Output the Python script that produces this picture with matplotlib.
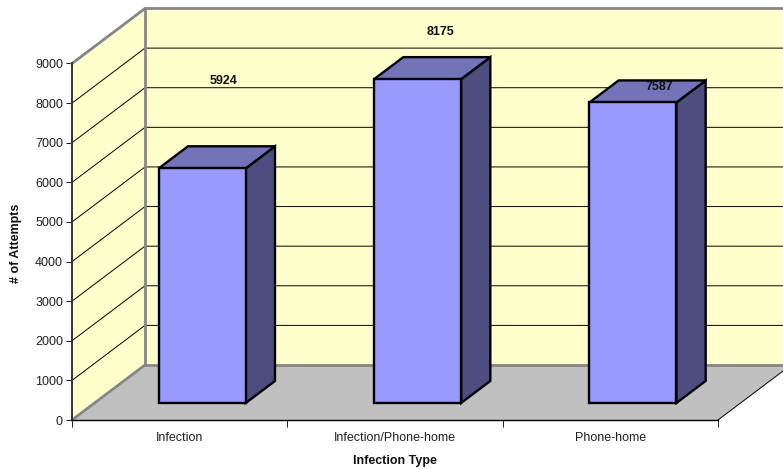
import matplotlib
matplotlib.use('Agg')
import matplotlib.pyplot as plt
from matplotlib.patches import Polygon

categories = ['Infection', 'Infection/Phone-home', 'Phone-home']
attempts = [5924, 8175, 7587]
y_ticks = [0, 1000, 2000, 3000, 4000, 5000, 6000, 7000, 8000, 9000]

# where the value labels sit, relative to the bar's category centre and top
label_dx = [0.205, 0.21, 0.228]
label_dy = [2630, 1610, 810]

plt.rcParams['font.family'] = ['Liberation Sans', 'DejaVu Sans']

W, H = 783, 469
PX_X = 646 / 3.0  # pixels per category
PX_Y = 356.5 / 9000.0  # pixels per attempt
LEFT, BASE = 72, 420

# oblique depth of the box, in data units (depth 1 = back wall)
DEPTH_X = 73 / PX_X
DEPTH_Y = 55 / PX_Y
BAR_W = 87 / PX_X
BAR_Z0, BAR_Z1 = 0.31, 0.71


def proj(x, y, z=0.0):
    return x + z * DEPTH_X, y + z * DEPTH_Y


fig = plt.figure(figsize=(W / 100, H / 100), dpi=100)
ax = fig.add_axes([0, 0, 1, 1])
ax.set_xlim(-LEFT / PX_X, (W - LEFT) / PX_X)
ax.set_ylim(-(H - BASE) / PX_Y, BASE / PX_Y)
ax.patch.set_visible(False)

wall = '#FFFFCC'
edge = '#868686'
n = len(categories)
ymax = y_ticks[-1]

# walls and floor
ax.add_patch(Polygon([proj(0, 0), proj(0, ymax), proj(0, ymax, 1), proj(0, 0, 1)],
                     fc=wall, ec='none', zorder=1))
ax.add_patch(Polygon([proj(0, 0, 1), proj(0, ymax, 1), proj(n, ymax, 1), proj(n, 0, 1)],
                     fc=wall, ec='none', zorder=1))
ax.add_patch(Polygon([proj(0, 0), proj(n, 0), proj(n, 0, 1), proj(0, 0, 1)],
                     fc='#C0C0C0', ec='none', zorder=1))

# gridlines run along the side wall and the back wall
for t in y_ticks[1:-1]:
    xs, ys = zip(proj(0, t), proj(0, t, 1), proj(n, t, 1))
    ax.plot(xs, ys, color='black', lw=0.7, zorder=2)

# grey outline of the walls
xs, ys = zip(proj(0, ymax), proj(0, ymax, 1), proj(n, ymax, 1))
ax.plot(xs, ys, color=edge, lw=2.0, zorder=3, solid_joinstyle='miter')
xs, ys = zip(proj(0, ymax, 1), proj(0, 0, 1), proj(n, 0, 1))
ax.plot(xs, ys, color=edge, lw=2.0, zorder=3, solid_joinstyle='miter')
xs, ys = zip(proj(0, 0), proj(0, 0, 1))
ax.plot(xs, ys, color=edge, lw=2.0, zorder=3)
xs, ys = zip(proj(n, 0), proj(n, 0, 1))
ax.plot(xs, ys, color='black', lw=0.7, zorder=3)

# bars
for i, v in enumerate(attempts):
    x0 = i + 0.5 - BAR_W / 2
    x1 = x0 + BAR_W
    front = [proj(x0, 0, BAR_Z0), proj(x1, 0, BAR_Z0), proj(x1, v, BAR_Z0), proj(x0, v, BAR_Z0)]
    top = [proj(x0, v, BAR_Z0), proj(x1, v, BAR_Z0), proj(x1, v, BAR_Z1), proj(x0, v, BAR_Z1)]
    side = [proj(x1, 0, BAR_Z0), proj(x1, 0, BAR_Z1), proj(x1, v, BAR_Z1), proj(x1, v, BAR_Z0)]
    z = 4 + i
    ax.add_patch(Polygon(side, fc='#4D4D80', ec='black', lw=1.7, joinstyle='miter', zorder=z))
    ax.add_patch(Polygon(top, fc='#7373BA', ec='black', lw=1.7, joinstyle='miter', zorder=z))
    ax.add_patch(Polygon(front, fc='#9999FF', ec='black', lw=1.7, joinstyle='miter', zorder=z))
    ax.text(i + 0.5 + label_dx[i], v + label_dy[i], str(v), ha='center', va='center',
            fontsize=9, fontweight='bold', color='#111111', zorder=10)

# front axes
ax.spines[['top', 'right']].set_visible(False)
ax.spines['left'].set_position(('data', 0))
ax.spines['bottom'].set_position(('data', 0))
ax.spines['left'].set_bounds(0, ymax)
ax.spines['bottom'].set_bounds(0, n)
ax.spines['left'].set_color('#333333')
ax.spines['left'].set_linewidth(1.4)
ax.spines['bottom'].set_linewidth(1.0)
for s in ax.spines.values():
    s.set_zorder(9)

ax.set_yticks(y_ticks)
ax.tick_params(axis='y', length=4.5, width=0.8, pad=2, labelsize=9, colors='#222222')
ax.set_xticks(range(n + 1))
ax.set_xticklabels([])
ax.tick_params(axis='x', which='major', length=5, width=0.7, color='#222222')
ax.set_xticks([i + 0.5 for i in range(n)], minor=True)
ax.set_xticklabels(categories, minor=True)
ax.tick_params(axis='x', which='minor', length=0, pad=8.5, labelsize=9, colors='#222222')

ax.text(n / 2, -(461 - BASE) / PX_Y, 'Infection Type', ha='center', va='center',
        fontsize=9, fontweight='bold', color='#111111')
ax.text(-(LEFT - 15.5) / PX_X, (BASE - 243) / PX_Y, '# of Attempts', rotation=90, ha='center', va='center',
        fontsize=9, fontweight='bold', color='#111111')

fig.savefig('out.png', dpi=100)
